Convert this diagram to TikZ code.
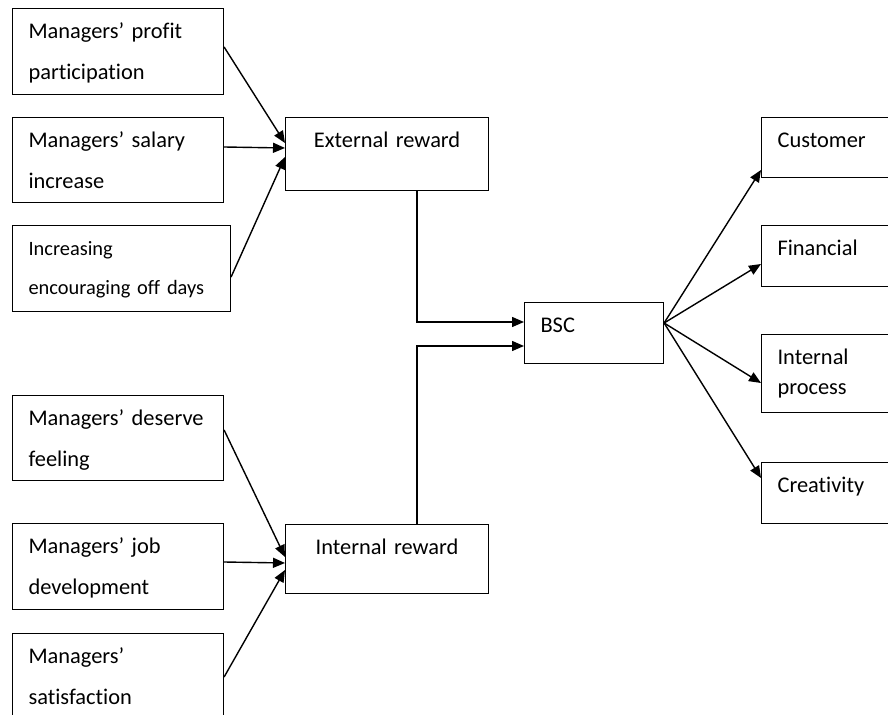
\documentclass[tikz,border=0pt]{standalone}
\usepackage{fontspec}
\setmainfont{Carlito}[Ligatures=NoCommon]
\usetikzlibrary{calc,arrows.meta}

\tikzset{
    box/.style={draw, line width=0.55pt, anchor=north west, inner xsep=8pt, inner ysep=0pt,
        text height=15pt, align=left, font=\fontsize{11.2}{20.5}\selectfont},
    link/.style={line width=0.7pt, -{Triangle[length=6pt,width=5pt]}}
}

\begin{document}
\begin{tikzpicture}[x=0.5pt, y=-0.5pt]
        \useasboundingbox (0,0) rectangle (888,715);
        \clip (0,0) rectangle (888,715);

        % external factors
        \node[box, text width=89.5pt, text depth=28pt] (profit) at (12,8) {Managers' profit\\participation};
        \node[box, text width=89.5pt, text depth=27.5pt] (salary) at (12,117) {Managers' salary\\increase};
        \node[box, text width=93pt, text depth=28pt, font=\fontsize{10.2}{19.5}\selectfont] (offdays) at (12,225) {Increasing\\encouraging off days};

        % internal factors
        \node[box, text width=89.5pt, text depth=27.5pt] (deserve) at (12,395) {Managers' deserve\\feeling};
        \node[box, text width=89.5pt, text depth=28pt] (job) at (12,523) {Managers' job\\development};
        \node[box, text width=89.5pt, text depth=40pt] (satisf) at (12,633) {Managers'\\satisfaction};

        % rewards
        \node[box, align=center, text width=85.5pt, text depth=21.5pt] (ext) at (285,117) {External reward};
        \node[box, align=center, text width=85.5pt, text depth=19.5pt] (int) at (285,524) {Internal reward};

        \node[box, text width=53.5pt, text depth=15.5pt] (bsc) at (524,302) {BSC};

        % perspectives
        \node[box, text width=64pt, text depth=15pt] (cust) at (761,117) {Customer};
        \node[box, text width=64pt, text depth=15.5pt] (fin) at (761,225) {Financial};
        \node[box, text width=64pt, text depth=24pt, font=\fontsize{11.2}{15}\selectfont] (proc) at (761,334) {Internal\\process};
        \node[box, text width=64pt, text depth=15.5pt] (creat) at (761,462) {Creativity};

        \draw[link] ($(profit.north east)+(0,39)$) -- ($(ext.north west)+(0,26)$);
        \draw[link] ($(salary.north east)+(0,30)$) -- ($(ext.north west)+(0,31)$);
        \draw[link] ($(offdays.north east)+(0,52)$) -- ($(ext.north west)+(0,40)$);

        \draw[link] ($(deserve.north east)+(0,35)$) -- ($(int.north west)+(0,33)$);
        \draw[link] ($(job.north east)+(0,39)$) -- ($(int.north west)+(0,39)$);
        \draw[link] ($(satisf.north east)+(0,44)$) -- ($(int.north west)+(0,46)$);

        \draw[link] ($(ext.south west)+(132,0)$) |- ($(bsc.north west)+(0,20)$);
        \draw[link] ($(int.north west)+(132,0)$) |- ($(bsc.north west)+(0,44)$);

        \draw[link] ($(bsc.north east)+(0,21)$) -- ($(cust.north west)+(0,53)$);
        \draw[link] ($(bsc.north east)+(0,21)$) -- ($(fin.north west)+(0,39)$);
        \draw[link] ($(bsc.north east)+(0,21)$) -- ($(proc.north west)+(0,49)$);
        \draw[link] ($(bsc.north east)+(0,21)$) -- ($(creat.north west)+(0,16)$);
\end{tikzpicture}
\end{document}
